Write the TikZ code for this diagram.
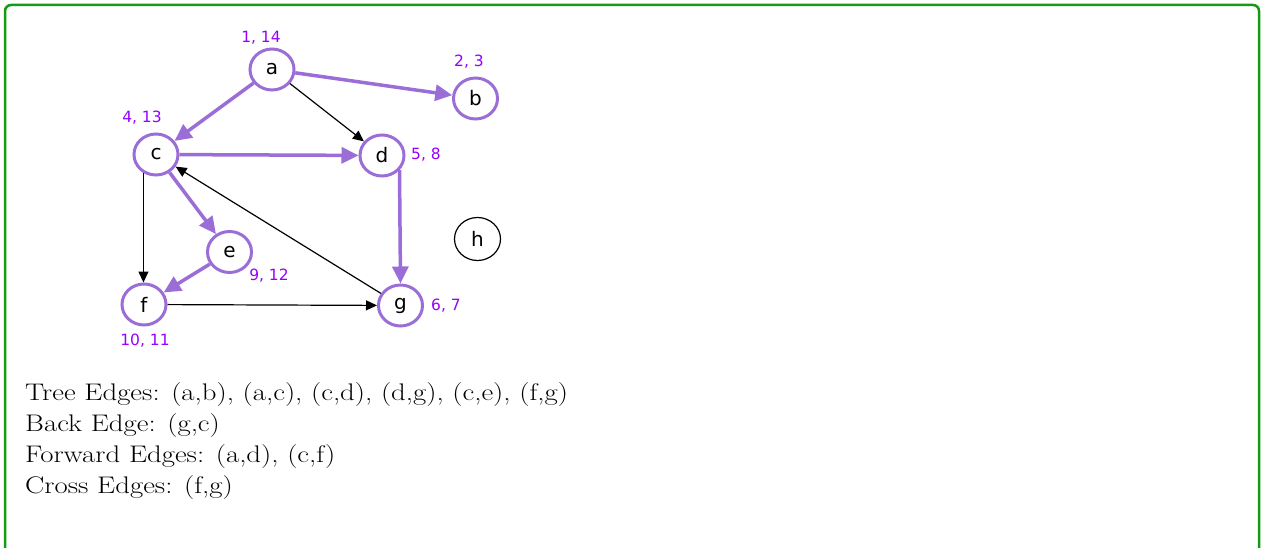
\documentclass[tikz,border=0pt]{standalone}
\usepackage{fontspec}
\newfontfamily\nodefont{DejaVu Sans}
\newfontfamily\txtfont{Latin Modern Roman}[FakeStretch=1.2]
\usetikzlibrary{arrows.meta,shapes.geometric}
\definecolor{framegreen}{RGB}{20,155,20}
\definecolor{edgepurple}{RGB}{155,110,215}
\definecolor{labpurple}{RGB}{150,0,255}
\tikzset{
  vtx/.style={ellipse,draw=edgepurple,line width=3pt,minimum width=44pt,minimum height=41pt,inner sep=0pt,font=\nodefont\fontsize{20}{20}\selectfont},
  plainvtx/.style={ellipse,draw=black,line width=1.2pt,minimum width=46pt,minimum height=43pt,inner sep=0pt,font=\nodefont\fontsize{20}{20}\selectfont},
  lab/.style={text=labpurple,font=\nodefont\fontsize{15.5}{15.5}\selectfont,inner sep=0pt},
  tree/.style={draw=edgepurple,line width=3.5pt,-{Triangle[length=17pt,width=16pt]}},
  other/.style={draw=black,line width=1.2pt,-{Triangle[length=11pt,width=10pt]}},
  txt/.style={anchor=base west,inner sep=0pt,font=\txtfont\fontsize{24}{24}\selectfont}
}
\begin{document}
\begin{tikzpicture}[x=1pt,y=-1pt]
\useasboundingbox (0,0) rectangle (1261,548);
\draw[framegreen,line width=2.5pt,rounded corners=6pt] (5,600) -- (5,5) -- (1259,5) -- (1259,600);
% vertices
\node[vtx] (a) at (272,69.5) {a};
\node[vtx] (b) at (475.5,98.5) {b};
\node[vtx] (c) at (156,154.5) {c};
\node[vtx] (d) at (382,155.5) {d};
\node[vtx] (e) at (229.5,252) {e};
\node[vtx] (f) at (144,304.5) {f};
\node[vtx] (g) at (400.5,305.5) {g};
\node[plainvtx] (h) at (477.5,239) {h};
% labels
\node[lab] (la) at (261,38) {1, 14};
\node[lab] (lb) at (469,62) {2, 3};
\node[lab] (lc) at (142,118) {4, 13};
\node[lab] (ld) at (426,155) {5, 8};
\node[lab] (le) at (269,276) {9, 12};
\node[lab] (lf) at (145,341) {10, 11};
\node[lab] (lg) at (446,306) {6, 7};
% tree edges
\draw[tree] (a) -- (b);
\draw[tree] (a) -- (c);
\draw[tree] (c) -- (d);
\draw[tree] (c) -- (e);
\draw[tree] (e) -- (f);
\draw[tree] (d.-40) -- (g.north);
% other edges
\draw[other] (a) -- (d);
\draw[other] (c.236) -- (f.north -| c.236);
\draw[other] (f) -- (g);
\draw[other] (g) -- (c);
% text
\node[txt] (t1) at (25,400) {Tree Edges: (a,b), (a,c), (c,d), (d,g), (c,e), (f,g)};
\node[txt] (t2) at (25,431) {Back Edge: (g,c)};
\node[txt] (t3) at (25,462) {Forward Edges: (a,d), (c,f)};
\node[txt] (t4) at (25,493) {Cross Edges: (f,g)};
\end{tikzpicture}
\end{document}
